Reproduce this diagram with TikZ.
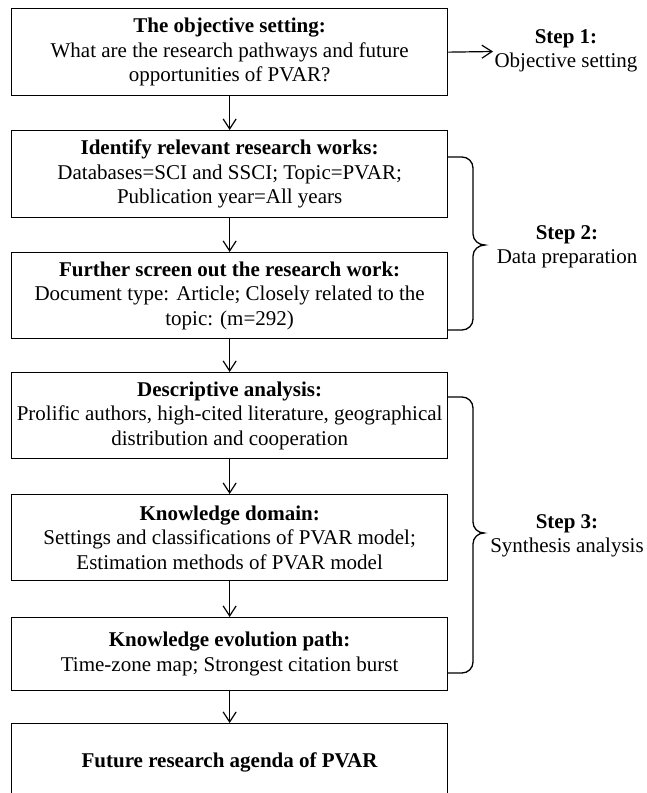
\documentclass[tikz,border=0pt]{standalone}
\usepackage{fontspec}
\setmainfont{Liberation Serif}
\usetikzlibrary{arrows.meta}
\newcommand\boxfont{\fontsize{21}{24.5}\selectfont}
\tikzset{
  x=1pt, y=-1pt,
  stepbox/.style={draw, line width=1.3pt, minimum width=436pt, inner sep=0pt, anchor=north west, align=center, font=\boxfont},
  arr/.style={-{Straight Barb[length=10pt,width=13pt]}, line width=1.2pt},
  brc/.style={line width=1.3pt},
  steplbl/.style={align=center, inner sep=0pt, font=\boxfont}
}
\begin{document}
\begin{tikzpicture}
\useasboundingbox (0,0) rectangle (646,793);
\clip (0,0) rectangle (646,793);
% boxes
\node[stepbox, minimum height=87pt] (b1) at (11,8) {\textbf{The objective setting:}\\What are the research pathways and future\\opportunities of PVAR?};
\node[stepbox, minimum height=87pt] (b2) at (11,130) {\textbf{Identify relevant research works:}\\Databases=SCI and SSCI; Topic=PVAR;\\Publication year=All years};
\node[stepbox, minimum height=86pt] (b3) at (11,252) {\textbf{Further screen out the research work:}\\Document type: Article; Closely related to the\\topic: (m=292)};
\node[stepbox, minimum height=86pt] (b4) at (11,372) {\textbf{Descriptive analysis:}\\Prolific authors, high-cited literature, geographical\\distribution and cooperation};
\node[stepbox, minimum height=86pt] (b5) at (11,494) {\textbf{Knowledge domain:}\\Settings and classifications of PVAR model;\\Estimation methods of PVAR model};
\node[stepbox, minimum height=73pt] (b6) at (11,617) {\textbf{Knowledge evolution path:}\\Time-zone map; Strongest citation burst};
\node[stepbox, minimum height=78pt] (b7) at (11,723) {\textbf{Future research agenda of PVAR}};
% vertical arrows
\draw[arr] (b1.south) -- (b2.north);
\draw[arr] (b2.south) -- (b3.north);
\draw[arr] (b3.south) -- (b4.north);
\draw[arr] (b4.south) -- (b5.north);
\draw[arr] (b5.south) -- (b6.north);
\draw[arr] (b6.south) -- (b7.north);
% step 1
\coordinate (s1end) at (493,51.5);
\draw[arr] (b1.east) -- (s1end);
\node[steplbl] (s1) at (566,51) {\textbf{Step 1:}\\Objective setting};
% step 2 brace
\draw[brc] (447,157) -- (462,157) to[out=0,in=90] (473,168) -- (473,234) to[out=-90,in=180] (485,245) to[out=180,in=90] (473,256) -- (473,319) to[out=-90,in=0] (462,330) -- (447,330);
\node[steplbl] (s2) at (567,247) {\textbf{Step 2:}\\Data preparation};
% step 3 brace
\draw[brc] (447,397) -- (462,397) to[out=0,in=90] (473,408) -- (473,522) to[out=-90,in=180] (484,533) to[out=180,in=90] (473,544) -- (473,662) to[out=-90,in=0] (462,673) -- (447,673);
\node[steplbl] (s3) at (567,536) {\textbf{Step 3:}\\Synthesis analysis};
\end{tikzpicture}
\end{document}
